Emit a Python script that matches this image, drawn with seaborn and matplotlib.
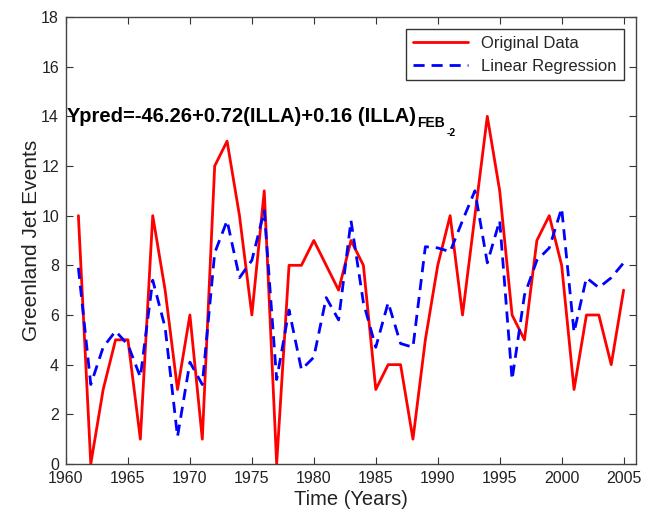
import matplotlib
matplotlib.use("Agg")
import matplotlib.pyplot as plt
import seaborn as sns
import numpy as np
import pandas as pd

years = list(range(1961, 2006))
original = [10, 0, 3, 5, 5, 1, 10, 7, 3, 6, 1, 12, 13, 10, 6, 11, 0, 8, 8, 9,
            8, 7, 9, 8, 3, 4, 4, 1, 5, 8, 10, 6, 10, 14, 11, 6, 5, 9, 10, 8,
            3, 6, 6, 4, 7]
regression = [7.9, 3.2, 4.7, 5.35, 4.8, 3.5, 7.4, 5.5, 1.1, 4.1, 3.2, 8.5, 9.8, 7.5, 8.2,
              10.2, 3.4, 6.2, 3.8, 4.3, 6.7, 5.8, 9.8, 6.5, 4.7, 6.5, 4.85, 4.7, 8.75, 8.7,
              8.55, 9.8, 11.0, 8.1, 9.8, 3.4, 6.8, 8.2, 8.7, 10.3, 5.3, 7.5, 7.1, 7.5, 8.1]
xticks = list(range(1960, 2006, 5))
yticks = list(range(0, 19, 2))

sns.set_theme(style="white")
plt.rcParams['font.family'] = ['Liberation Sans', 'DejaVu Sans']

fig = plt.figure(figsize=(6.47, 5.16), dpi=100)
ax = fig.add_axes([0.102, 0.1008, 0.881, 0.8663])

df = pd.DataFrame({"Year": years, "Original": original, "Regression": regression})
sns.lineplot(data=df, x="Year", y="Original", ax=ax, color="#ff0000", lw=2.0,
             label="Original Data")
sns.lineplot(data=df, x="Year", y="Regression", ax=ax, color="#0000ff", lw=2.0,
             linestyle=(0, (4, 2.5)), label="Linear Regression")

ax.set_xlim(1960, 2006)
ax.set_ylim(0, 18)
ax.set_xticks(xticks)
ax.set_yticks(yticks)
ax.tick_params(direction="in", length=5, width=0.8, colors="#333333",
               labelsize=11.5, labelcolor="#222222", top=True, right=True,
               bottom=True, left=True, pad=5)
ax.tick_params(axis='x', labeltop=False)
ax.tick_params(axis='y', labelright=False)
for s in ax.spines.values():
    s.set_color("#444444")
    s.set_linewidth(1.0)

ax.set_xlabel("Time (Years)", fontsize=14.5, color="#222222", labelpad=3)
ax.set_ylabel("Greenland Jet Events", fontsize=15, color="#222222", labelpad=0)

main = ax.text(1960.1, 14, "Ypred=-46.26+0.72(ILLA)+0.16 (ILLA)",
               fontsize=14.5, fontweight="bold", color="black", va="center", ha="left")
sub = ax.annotate("FEB", xy=(1.0, 0.5), xycoords=main, xytext=(1, 0),
                  textcoords="offset points", fontsize=10, fontweight="bold",
                  color="black", va="top", ha="left")
ax.annotate("-2", xy=(1.0, 0.15), xycoords=sub, xytext=(1, 0),
            textcoords="offset points", fontsize=7.5, fontweight="bold",
            color="black", va="top", ha="left")

leg = ax.legend(loc="upper right", fontsize=12, frameon=True, fancybox=False,
                edgecolor="#333333", framealpha=1, borderaxespad=0.75,
                handlelength=3.3, borderpad=0.4, labelspacing=0.45)
leg.get_frame().set_linewidth(1.0)

fig.savefig("out.png", dpi=100)
